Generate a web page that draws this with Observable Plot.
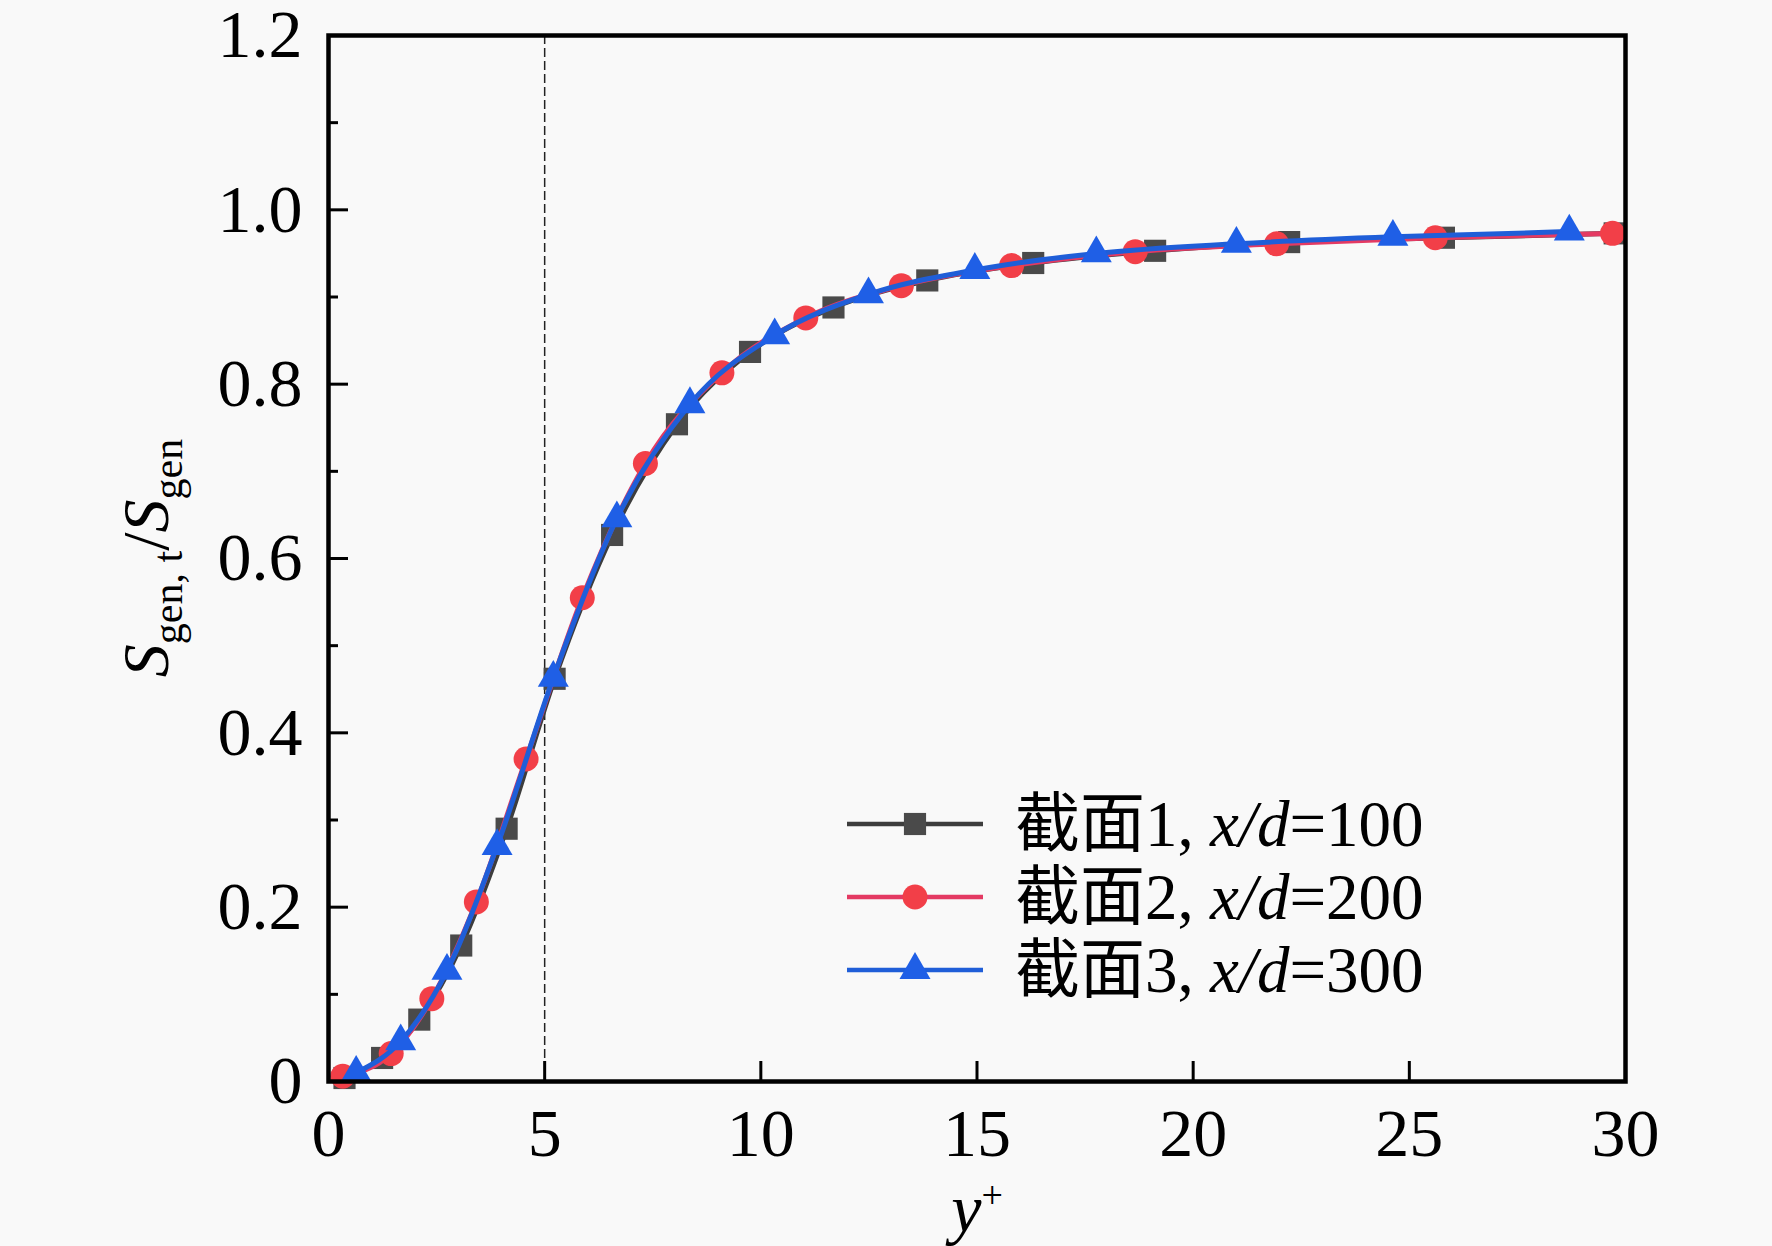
<!DOCTYPE html>
<html>
<head>
<meta charset="utf-8">
<script src="https://cdn.jsdelivr.net/npm/d3@7"></script>
<script src="https://cdn.jsdelivr.net/npm/@observablehq/plot@0.6"></script>
<style>
  html, body { margin: 0; padding: 0; background: #f9f9f9; }
  #chart svg { display: block; }
</style>
</head>
<body>
<div id="chart"></div>
<script>
// ---- data ----
const s1X = [0.37, 1.24, 2.10, 3.07, 4.12, 5.23, 6.56, 8.06, 9.75, 11.68, 13.85, 16.30, 19.12, 22.22, 25.80, 29.75];
const s1Y = [0.004, 0.027, 0.071, 0.156, 0.290, 0.462, 0.627, 0.754, 0.837, 0.888, 0.919, 0.939, 0.953, 0.963, 0.968, 0.973];
const s2X = [0.33, 1.45, 2.39, 3.42, 4.57, 5.87, 7.33, 9.10, 11.04, 13.25, 15.80, 18.66, 21.93, 25.60, 29.70];
const s2Y = [0.006, 0.032, 0.095, 0.206, 0.370, 0.555, 0.709, 0.813, 0.876, 0.913, 0.936, 0.952, 0.961, 0.968, 0.973];
const s3X = [0.64, 1.67, 2.74, 3.90, 5.20, 6.67, 8.36, 10.32, 12.49, 14.95, 17.76, 21.00, 24.62, 28.70];
const s3Y = [0.010, 0.046, 0.127, 0.270, 0.463, 0.646, 0.777, 0.856, 0.903, 0.931, 0.950, 0.961, 0.969, 0.975];
const seriesNames = ["截面1, ", "截面2, ", "截面3, "];
const seriesXd = ["=100", "=200", "=300"];
const xTicks = [0, 5, 10, 15, 20, 25, 30];
const yTicks = [0, 0.2, 0.4, 0.6, 0.8, 1.0, 1.2];
const yMinorTicks = [0.1, 0.3, 0.5, 0.7, 0.9, 1.1];
const refLineX = [5];

// ---- styles ----
const W = 1772, H = 1246;
const mL = 328, mR = 147, mT = 35, mB = 165;
const plotW = W - mL - mR, plotH = H - mT - mB;
const styles = [
  {symbol: "square",   line: "#3d3d3d", fill: "#4a4a4a", r: 12.5},
  {symbol: "circle",   line: "#e43a63", fill: "#f23f48", r: 12.5},
  {symbol: "triangle", line: "#1f5ed8", fill: "#1f5fe6", r: 11.5}
];
const toRows = (xs, ys) => xs.map((x, i) => ({x, y: ys[i]}));
const series = [toRows(s1X, s1Y), toRows(s2X, s2Y), toRows(s3X, s3Y)];

const seriesMarks = series.flatMap((rows, i) => [
  Plot.line(rows, {x: "x", y: "y", stroke: styles[i].line, strokeWidth: 5, curve: "monotone-x"}),
  Plot.dot(rows, {x: "x", y: "y", symbol: () => styles[i].symbol, fill: styles[i].fill, stroke: "none", r: styles[i].r})
]);

const chart = Plot.plot({
  width: W, height: H,
  marginLeft: mL, marginRight: mR, marginTop: mT, marginBottom: mB,
  x: {domain: [0, 30]},
  y: {domain: [0, 1.2]},
  symbol: {type: "identity"},
  style: {background: "#f9f9f9", fontFamily: "'Liberation Serif', 'Times New Roman', serif", color: "black", overflow: "visible"},
  marks: [
    Plot.ruleX(refLineX, {x: d => d, stroke: "#222", strokeWidth: 1.5, strokeDasharray: "9,4"}),
    ...seriesMarks,
    Plot.ruleX(xTicks, {x: d => d, insetTop: plotH - 20, stroke: "black", strokeWidth: 3}),
    Plot.ruleY(yTicks, {y: d => d, insetRight: plotW - 20, stroke: "black", strokeWidth: 3}),
    Plot.ruleY(yMinorTicks, {y: d => d, insetRight: plotW - 10, stroke: "black", strokeWidth: 3}),
    Plot.axisX({ticks: xTicks, tickSize: 0, tickPadding: 26, fontSize: 68, label: null, tickFormat: d => String(d)}),
    Plot.axisY({ticks: yTicks, tickSize: 0, tickPadding: 26, fontSize: 68, label: null,
                tickFormat: d => d === 0 ? "0" : d.toFixed(1)}),
    Plot.frame({stroke: "black", strokeWidth: 4.5})
  ]
});
document.getElementById("chart").appendChild(chart);

// ---- axis titles with sub/superscripts ----
const svg = d3.select(chart);
const serif = "'Liberation Serif', 'Times New Roman', serif";

const xt = svg.append("text")
  .attr("x", 977).attr("y", 1232)
  .attr("text-anchor", "middle")
  .attr("font-family", serif).attr("font-size", 68).attr("fill", "black");
xt.append("tspan").attr("font-style", "italic").text("y");
xt.append("tspan").attr("font-size", 38).attr("dy", -24).text("+");

const yt = svg.append("text")
  .attr("transform", "translate(168,558) rotate(-90)")
  .attr("text-anchor", "middle")
  .attr("font-family", serif).attr("font-size", 66).attr("fill", "black");
yt.append("tspan").attr("font-style", "italic").text("S");
yt.append("tspan").attr("font-size", 42).attr("dy", 14).text("gen,\u00a0t");
yt.append("tspan").attr("dy", -14).text("/");
yt.append("tspan").attr("font-style", "italic").text("S");
yt.append("tspan").attr("font-size", 42).attr("dy", 14).text("gen");

// ---- legend ----
const symMap = {square: d3.symbolSquare, circle: d3.symbolCircle, triangle: d3.symbolTriangle};
const legendRowsY = [824, 897, 970];
const lg = svg.append("g");
styles.forEach((s, i) => {
  const y = legendRowsY[i];
  lg.append("line").attr("x1", 847).attr("x2", 983).attr("y1", y).attr("y2", y)
    .attr("stroke", s.line).attr("stroke-width", 4.5);
  lg.append("path")
    .attr("d", d3.symbol(symMap[s.symbol], Math.PI * s.r * s.r)())
    .attr("transform", `translate(915,${y})`)
    .attr("fill", s.fill);
  const t = lg.append("text").attr("x", 1015).attr("y", y + 22)
    .attr("text-anchor", "start")
    .attr("font-family", "'Liberation Serif', 'Noto Sans CJK SC', serif")
    .attr("font-size", 65).attr("fill", "black");
  t.append("tspan").text(seriesNames[i].replace(/ $/, "\u00a0"));
  t.append("tspan").attr("font-style", "italic").text("x/d");
  t.append("tspan").text(seriesXd[i]);
});
</script>
</body>
</html>
